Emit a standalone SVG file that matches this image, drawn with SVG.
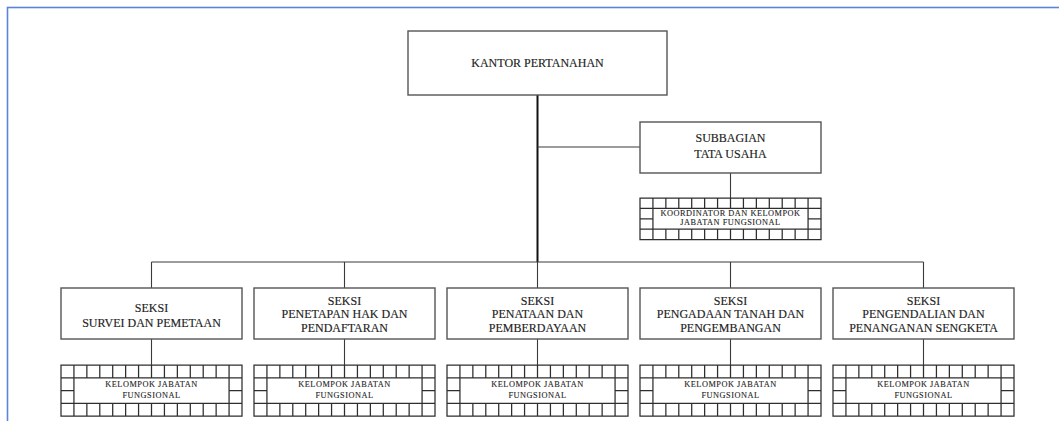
<svg xmlns="http://www.w3.org/2000/svg" xmlns:xlink="http://www.w3.org/1999/xlink" width="1059" height="421" viewBox="0 0 1059 421">
  <style>
    .box { fill: #ffffff; stroke: #555555; stroke-width: 1.4; }
    .lbl { font-family: "Liberation Serif", "Times New Roman", serif; font-size: 12px; fill: #222222; stroke: #222222; stroke-width: 0.15; text-anchor: middle; }
    .small { font-family: "Liberation Serif", "Times New Roman", serif; font-size: 8.3px; letter-spacing: 0.5px; fill: #222222; stroke: #222222; stroke-width: 0.1; text-anchor: middle; }
    .grid { fill: #ffffff; stroke: #2e2e2e; stroke-width: 1.25; }
    .link { fill: none; stroke: #3a3a3a; stroke-width: 1.1; }
    .trunk { fill: none; stroke: #111111; stroke-width: 2; }
  </style>
  <defs>
    <!-- bordered cell frame: a row of 14 cells on top and bottom, two cells down each side -->
    <g id="cells">
      <rect class="grid" x="0" y="0" width="181" height="51" vector-effect="non-scaling-stroke"/>
      <path class="grid" fill="none" vector-effect="non-scaling-stroke" d="M0 12.75H181 M0 38.25H181 M0 25.5H12.93 M168.07 25.5H181 M12.93 0V51 M168.07 0V51 M25.86 0V12.75 M25.86 38.25V51 M38.79 0V12.75 M38.79 38.25V51 M51.71 0V12.75 M51.71 38.25V51 M64.64 0V12.75 M64.64 38.25V51 M77.57 0V12.75 M77.57 38.25V51 M90.5 0V12.75 M90.5 38.25V51 M103.43 0V12.75 M103.43 38.25V51 M116.36 0V12.75 M116.36 38.25V51 M129.29 0V12.75 M129.29 38.25V51 M142.21 0V12.75 M142.21 38.25V51 M155.14 0V12.75 M155.14 38.25V51"/>
    </g>
  </defs>

  <rect x="0" y="0" width="1059" height="421" fill="#ffffff"/>
  <rect x="7.5" y="7.5" width="1060" height="420" fill="none" stroke="#5b86d6" stroke-width="1.6"/>

  <g id="connectors">
    <path class="trunk" d="M537.5 95V262"/>
    <path class="link" d="M537.5 147H640"/>
    <path class="link" d="M730.5 173V198"/>
    <path class="link" stroke-width="1.4" d="M151.5 262H923.5"/>
    <path class="link" d="M151.5 262V288 M344.5 262V288 M537.5 262V288 M730.5 262V288 M923.5 262V288"/>
    <path class="link" d="M151.5 339V365 M344.5 339V365 M537.5 339V365 M730.5 339V365 M923.5 339V365"/>
  </g>

  <g id="kantor">
    <rect class="box" x="408" y="31" width="259" height="64"/>
    <text class="lbl" x="537.5" y="67">KANTOR PERTANAHAN</text>
  </g>

  <g id="subbagian">
    <rect class="box" x="640" y="122" width="181" height="51"/>
    <text class="lbl" x="730.5" y="142">SUBBAGIAN</text>
    <text class="lbl" x="730.5" y="158">TATA USAHA</text>
  </g>

  <g id="koordinator">
    <use xlink:href="#cells" transform="translate(640 198) scale(1 0.815)"/>
    <text class="small" x="730.5" y="216">KOORDINATOR DAN KELOMPOK</text>
    <text class="small" x="730.5" y="225">JABATAN FUNGSIONAL</text>
  </g>

  <g id="seksi-survei">
    <rect class="box" x="61" y="288" width="181" height="51"/>
    <text class="lbl" x="151.5" y="311.5">SEKSI</text>
    <text class="lbl" x="151.5" y="327">SURVEI DAN PEMETAAN</text>
  </g>
  <g id="seksi-penetapan">
    <rect class="box" x="254" y="288" width="181" height="51"/>
    <text class="lbl" x="344.5" y="304.5">SEKSI</text>
    <text class="lbl" x="344.5" y="318">PENETAPAN HAK DAN</text>
    <text class="lbl" x="344.5" y="331.5">PENDAFTARAN</text>
  </g>
  <g id="seksi-penataan">
    <rect class="box" x="447" y="288" width="181" height="51"/>
    <text class="lbl" x="537.5" y="304.5">SEKSI</text>
    <text class="lbl" x="537.5" y="318">PENATAAN DAN</text>
    <text class="lbl" x="537.5" y="331.5">PEMBERDAYAAN</text>
  </g>
  <g id="seksi-pengadaan">
    <rect class="box" x="640" y="288" width="181" height="51"/>
    <text class="lbl" x="730.5" y="304.5">SEKSI</text>
    <text class="lbl" x="730.5" y="318">PENGADAAN TANAH DAN</text>
    <text class="lbl" x="730.5" y="331.5">PENGEMBANGAN</text>
  </g>
  <g id="seksi-pengendalian">
    <rect class="box" x="833" y="288" width="181" height="51"/>
    <text class="lbl" x="923.5" y="304.5">SEKSI</text>
    <text class="lbl" x="923.5" y="318">PENGENDALIAN DAN</text>
    <text class="lbl" x="923.5" y="331.5">PENANGANAN SENGKETA</text>
  </g>

  <g id="kelompok-1">
    <use xlink:href="#cells" x="61" y="365"/>
    <text class="small" x="151.5" y="387">KELOMPOK JABATAN</text>
    <text class="small" x="151.5" y="398">FUNGSIONAL</text>
  </g>
  <g id="kelompok-2">
    <use xlink:href="#cells" x="254" y="365"/>
    <text class="small" x="344.5" y="387">KELOMPOK JABATAN</text>
    <text class="small" x="344.5" y="398">FUNGSIONAL</text>
  </g>
  <g id="kelompok-3">
    <use xlink:href="#cells" x="447" y="365"/>
    <text class="small" x="537.5" y="387">KELOMPOK JABATAN</text>
    <text class="small" x="537.5" y="398">FUNGSIONAL</text>
  </g>
  <g id="kelompok-4">
    <use xlink:href="#cells" x="640" y="365"/>
    <text class="small" x="730.5" y="387">KELOMPOK JABATAN</text>
    <text class="small" x="730.5" y="398">FUNGSIONAL</text>
  </g>
  <g id="kelompok-5">
    <use xlink:href="#cells" x="833" y="365"/>
    <text class="small" x="923.5" y="387">KELOMPOK JABATAN</text>
    <text class="small" x="923.5" y="398">FUNGSIONAL</text>
  </g>
</svg>
